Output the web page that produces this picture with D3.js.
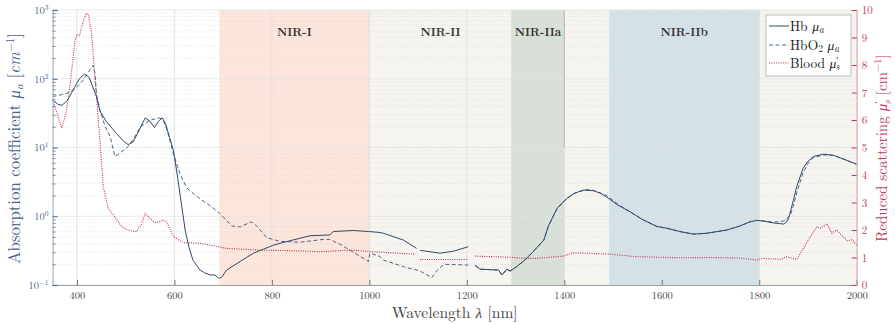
<!DOCTYPE html>
<html>
<head>
<meta charset="utf-8">
<script src="https://cdn.jsdelivr.net/npm/d3@7"></script>
<style>
  body { margin: 0; background: #fff; }
  svg { display: block; }
</style>
</head>
<body>
<svg id="chart" width="895" height="324"></svg>
<script>
// Spectral windows
const bandNames  = ["NIR-I", "NIR-II", "NIR-IIa", "NIR-IIb"];
const bandStart  = [692, 1000, 1291, 1492];
const bandEnd    = [1000, 2000, 1400, 1800];
const bandLabelX = [846, 1146, 1346, 1646];
const bandColors = ["#fce6dc", "#f5f4ef", "#d9e0d8", "#d4e2e7"];

// Deoxy-haemoglobin absorption (cm^-1); null marks a break between data sets
const hbWavelength = [350,360,369,380,395,405,415,425,440,447,460,481,495,505,515,528,540,550,559,567,575,582,590,598,607,615,622,630,638,652,662,673,683,691,697,707,735,762,782,803,837,878,919,926,967,998,1022,1029,1070,1097,1100,1104,1145,1172,1203,1210,1217,1227,1265,1272,1282,1289,1300,1319,1335,1347,1358,1367,1385,1405,1420,1439,1460,1475,1487,1510,1535,1560,1590,1610,1637,1664,1692,1733,1760,1781,1795,1810,1829,1850,1858,1863,1870,1877,1890,1900,1911,1932,1952,1975,2000];
const hbMuA = [49,43,41,48,75,100,117,105,55,34,24,16,12.5,11,12,18,27,24,19.5,24,27,22,14,9,3.5,1.4,0.63,0.35,0.23,0.166,0.15,0.14,0.14,0.125,0.13,0.165,0.22,0.29,0.33,0.38,0.44,0.52,0.535,0.6,0.62,0.6,0.58,0.565,0.45,0.34,null,0.32,0.29,0.31,0.36,null,0.195,0.17,0.165,0.14,0.17,0.16,0.18,0.23,0.3,0.37,0.45,0.71,1.3,1.82,2.15,2.4,2.35,2.15,1.9,1.45,1.16,0.9,0.71,0.67,0.6,0.55,0.565,0.63,0.72,0.83,0.87,0.85,0.8,0.77,0.85,1.1,1.7,2.7,5.0,6.3,7.4,8.0,7.7,6.7,5.7];

// Oxy-haemoglobin absorption (cm^-1)
const hbo2Wavelength = [350,365,379,395,410,425,433,437,440,447,458,468,478,490,505,518,530,550,560,570,578,586,598,611,625,640,652,675,693,718,735,758,769,789,817,858,905,919,940,967,998,1001,1022,1029,1070,1104,1128,1138,1153,1203,1210,1217,1227,1265,1272,1282,1289,1300,1319,1335,1347,1358,1367,1385,1405,1420,1445,1460,1487,1510,1535,1560,1590,1610,1637,1664,1692,1733,1760,1781,1795,1810,1829,1850,1863,1870,1877,1890,1900,1911,1932,1952,1975,2000];
const hbo2MuA = [55,58,61,70,90,130,158,120,60,35,20,14.5,7.4,8.5,10.3,14,20,25,26,27,24,17,8,4.2,2.6,2.1,1.8,1.4,1.1,0.72,0.7,0.83,0.72,0.49,0.43,0.42,0.46,0.46,0.39,0.3,0.22,0.29,0.26,0.23,0.185,0.16,0.128,0.16,0.2,0.195,null,0.19,0.17,0.165,0.14,0.165,0.16,0.18,0.23,0.3,0.37,0.45,0.7,1.28,1.8,2.15,2.45,2.38,2.0,1.5,1.16,0.9,0.71,0.67,0.6,0.55,0.565,0.63,0.72,0.83,0.87,0.85,0.82,0.85,1.0,1.4,2.2,4.3,5.8,7.1,7.8,7.7,6.7,5.7];

// Blood reduced scattering (cm^-1)
const bloodWavelength = [350,360,369,378,386,396,400,405,413,419,423,430,440,447,454,464,475,482,492,505,515,522,532,540,550,560,570,577,584,598,618,652,690,707,775,858,899,960,1008,1094,1099,1104,1203,1210,1217,1289,1316,1345,1398,1418,1487,1549,1637,1700,1760,1795,1808,1843,1856,1877,1897,1918,1925,1939,1949,1959,1980,1990,2000];
const bloodMuS = [6.73,6.2,5.7,6.3,7.3,8.9,9.1,9.05,9.6,9.88,9.85,9.16,6.85,5.27,3.57,2.79,2.55,2.36,2.12,2.0,1.96,1.94,2.2,2.6,2.42,2.27,2.3,2.36,2.3,1.76,1.54,1.52,1.39,1.33,1.27,1.24,1.21,1.27,1.21,1.12,null,0.93,0.93,null,1.05,1.01,0.97,0.97,1.05,1.17,1.13,1.03,0.99,1.0,0.98,0.91,0.97,0.93,1.03,0.93,1.52,2.12,2.06,2.22,1.88,2.0,1.61,1.64,1.45];

// Axis ticks
const xTicks = [400, 600, 800, 1000, 1200, 1400, 1600, 1800, 2000];
const yDecades = [0.1, 1, 10, 100, 1000];
const yDecadeExp = ["\u22121", "0", "1", "2", "3"];
const rightTicks = [0, 1, 2, 3, 4, 5, 6, 7, 8, 9, 10];

const legendLabels = [["Hb ", "\u03bc", "a", ""], ["HbO", "\u03bc", "a", "2"], ["Blood ", "\u03bc", "s", "\u2032"]];

const FONT = "'Latin Modern Roman', 'CMU Serif', 'Liberation Serif', serif";
const W = 895, H = 324;
const margin = { top: 10, right: 38.3, bottom: 39, left: 52.6 };
const iw = W - margin.left - margin.right;
const ih = H - margin.top - margin.bottom;

const colHb = "#2f4a6a", colHbO2 = "#4d6786", colBlood = "#c42d4b";
const colLeft = "#46618a", colRight = "#c23a5c";

const svg = d3.select("#chart").attr("font-family", FONT);
const g = svg.append("g").attr("transform", `translate(${margin.left},${margin.top})`);

const x = d3.scaleLinear().domain([350, 2000]).range([0, iw]);
const y = d3.scaleLog().domain([0.1, 1000]).range([ih, 0]);
const yr = d3.scaleLinear().domain([0, 10]).range([ih, 0]);

// Shaded windows
g.append("g").selectAll("rect").data(bandNames).join("rect")
  .attr("x", (d, i) => x(bandStart[i]))
  .attr("width", (d, i) => x(bandEnd[i]) - x(bandStart[i]))
  .attr("y", 0).attr("height", ih)
  .attr("fill", (d, i) => bandColors[i]);

// Grid
const minorVals = [];
for (let e = -1; e < 3; e++) for (let m = 2; m <= 9; m++) minorVals.push(m * Math.pow(10, e));
g.append("g").selectAll("line").data(minorVals).join("line")
  .attr("x1", 0).attr("x2", iw)
  .attr("y1", d => y(d)).attr("y2", d => y(d))
  .attr("stroke", "#d9d9d9").attr("stroke-width", 0.7).attr("stroke-dasharray", "1,2");
g.append("g").selectAll("line").data(yDecades).join("line")
  .attr("x1", 0).attr("x2", iw)
  .attr("y1", d => y(d)).attr("y2", d => y(d))
  .attr("stroke", "#e2e2e2").attr("stroke-width", 0.8);
g.append("g").selectAll("line").data(xTicks).join("line")
  .attr("x1", d => x(d)).attr("x2", d => x(d))
  .attr("y1", 0).attr("y2", ih)
  .attr("stroke", "#dcdcdc").attr("stroke-width", 0.8);

// window edge marker
g.append("line")
  .attr("x1", x(1400)).attr("x2", x(1400))
  .attr("y1", y(1000)).attr("y2", y(10))
  .attr("stroke", "#b4b9b1").attr("stroke-width", 1);

// Window labels
g.append("g").selectAll("text").data(bandNames).join("text")
  .attr("x", (d, i) => x(bandLabelX[i]))
  .attr("y", 26)
  .attr("text-anchor", "middle")
  .attr("font-size", 11.5).attr("font-weight", "bold").attr("fill", "#333")
  .text(d => d);

// Curves
const lineL = (wl) => d3.line()
  .defined(d => d != null)
  .x((d, i) => x(wl[i]))
  .y(d => y(d));
const lineR = (wl) => d3.line()
  .defined(d => d != null)
  .x((d, i) => x(wl[i]))
  .y(d => yr(d));

g.append("path").datum(bloodMuS).attr("d", lineR(bloodWavelength))
  .attr("fill", "none").attr("stroke", colBlood).attr("stroke-width", 1.1)
  .attr("stroke-dasharray", "1,1.3");
g.append("path").datum(hbo2MuA).attr("d", lineL(hbo2Wavelength))
  .attr("fill", "none").attr("stroke", colHbO2).attr("stroke-width", 1)
  .attr("stroke-dasharray", "4,2.5");
g.append("path").datum(hbMuA).attr("d", lineL(hbWavelength))
  .attr("fill", "none").attr("stroke", colHb).attr("stroke-width", 1);

// Bottom axis
const xAxis = g.append("g").attr("transform", `translate(0,${ih})`)
  .call(d3.axisBottom(x).tickValues(xTicks).tickSize(-5).tickPadding(7).tickFormat(d3.format("d")))
  .attr("font-family", FONT);
xAxis.select(".domain").attr("stroke", "#888").attr("stroke-width", 0.8);
xAxis.selectAll(".tick line").attr("stroke", "#777");
xAxis.selectAll("text").attr("font-size", 10.5).attr("fill", "#444");

// Left axis
const yAxis = g.append("g")
  .call(d3.axisLeft(y).tickValues(yDecades).tickSize(-5).tickPadding(4).tickFormat(""))
  .attr("font-family", FONT);
yAxis.select(".domain").attr("stroke", "#b8c2cf").attr("stroke-width", 1.5);
yAxis.selectAll(".tick line").attr("stroke", colLeft);
yAxis.selectAll(".tick text").each(function (d) {
  const i = yDecades.indexOf(d);
  const t = d3.select(this).attr("font-size", 10.5).attr("fill", colLeft);
  t.append("tspan").text("10");
  t.append("tspan").attr("dy", -4).attr("font-size", 7.5).text(yDecadeExp[i]);
});
g.append("g")
  .call(d3.axisLeft(y).tickValues(minorVals).tickSize(-3).tickFormat(""))
  .call(s => s.select(".domain").remove())
  .selectAll(".tick line").attr("stroke", colLeft).attr("stroke-width", 0.7);

// Right axis
const rAxis = g.append("g").attr("transform", `translate(${iw},0)`)
  .call(d3.axisRight(yr).tickValues(rightTicks).tickSize(-5).tickPadding(5).tickFormat(d3.format("d")))
  .attr("font-family", FONT);
rAxis.select(".domain").attr("stroke", "#d9a2b0").attr("stroke-width", 1);
rAxis.selectAll(".tick line").attr("stroke", colRight);
rAxis.selectAll("text").attr("font-size", 11).attr("fill", colRight);

// Axis titles
const xt = svg.append("text")
  .attr("x", margin.left + iw / 2).attr("y", 318)
  .attr("text-anchor", "middle").attr("font-size", 15.5).attr("fill", "#444");
xt.append("tspan").text("Wavelength ");
xt.append("tspan").attr("font-style", "italic").text("\u03bb");
xt.append("tspan").text(" [nm]");

const ylt = svg.append("text")
  .attr("transform", `translate(20,${margin.top + ih / 2 + 1}) rotate(-90)`)
  .attr("text-anchor", "middle").attr("font-size", 16.8).attr("fill", colLeft);
ylt.append("tspan").text("Absorption coefficient ");
ylt.append("tspan").attr("font-style", "italic").text("\u03bc");
ylt.append("tspan").attr("font-style", "italic").attr("font-size", 11.5).attr("dy", 3).text("a");
ylt.append("tspan").attr("dy", -3).text(" [");
ylt.append("tspan").attr("font-style", "italic").text("cm");
ylt.append("tspan").attr("font-size", 11.5).attr("dy", -6).text("\u22121");
ylt.append("tspan").attr("dy", 6).text("]");

const yrt = svg.append("text")
  .attr("transform", `translate(887,${margin.top + 138}) rotate(-90)`)
  .attr("text-anchor", "middle").attr("font-size", 15).attr("fill", colRight);
yrt.append("tspan").text("Reduced scattering ");
yrt.append("tspan").attr("font-style", "italic").text("\u03bc");
yrt.append("tspan").attr("font-size", 10.5).attr("dy", -5).text("\u2032");
yrt.append("tspan").attr("font-style", "italic").attr("font-size", 10.5).attr("dy", 9).attr("dx", -3).text("s");
yrt.append("tspan").attr("dy", -4).text(" [cm");
yrt.append("tspan").attr("font-size", 10.5).attr("dy", -6).text("\u22121");
yrt.append("tspan").attr("dy", 6).text("]");

// Legend
const lg = svg.append("g").attr("transform", "translate(766,15)");
lg.append("rect").attr("width", 85).attr("height", 61)
  .attr("fill", "#fff").attr("stroke", "#b5b5b5").attr("stroke-width", 0.9);
const legendStyle = [
  { c: colHb, dash: null, w: 1 },
  { c: colHbO2, dash: "4,2.5", w: 1 },
  { c: colBlood, dash: "1,1.3", w: 1.1 }
];
const rowY = [11, 30, 48];
legendLabels.forEach((lab, i) => {
  lg.append("line").attr("x1", 3).attr("x2", 23).attr("y1", rowY[i]).attr("y2", rowY[i])
    .attr("stroke", legendStyle[i].c).attr("stroke-width", legendStyle[i].w)
    .attr("stroke-dasharray", legendStyle[i].dash);
  const t = lg.append("text").attr("x", 24).attr("y", rowY[i] + 4.5)
    .attr("font-size", 13.5).attr("fill", "#222");
  t.append("tspan").text(lab[0]);
  if (lab[3] === "2") {
    t.append("tspan").attr("font-size", 9.5).attr("dy", 2.5).text("2");
    t.append("tspan").attr("dy", -2.5).text(" ");
  }
  t.append("tspan").attr("font-style", "italic").text(lab[1]);
  if (lab[3] === "\u2032") {
    t.append("tspan").attr("font-size", 9.5).attr("dy", -4).text("\u2032");
    t.append("tspan").attr("font-style", "italic").attr("font-size", 9.5).attr("dy", 6.5).attr("dx", -3).text(lab[2]);
  } else {
    t.append("tspan").attr("font-style", "italic").attr("font-size", 9.5).attr("dy", 2.5).text(lab[2]);
  }
});
</script>
</body>
</html>
